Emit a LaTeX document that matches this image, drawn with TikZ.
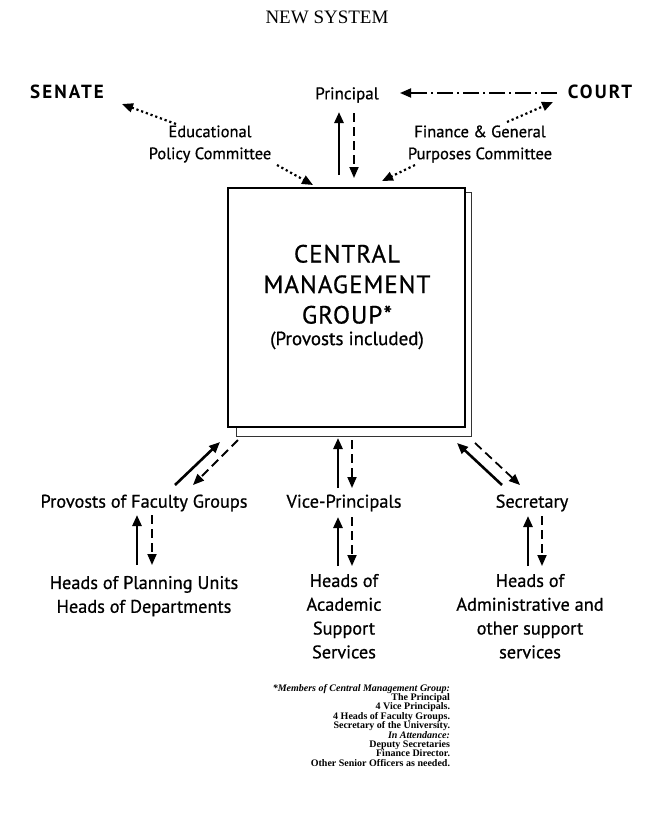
\documentclass[tikz,border=0pt]{standalone}
\usepackage{fontspec}
\setmainfont{Liberation Serif}
\newfontfamily\gill[FakeBold=0.7]{PT Sans}
\newfontfamily\gillbold{PT Sans Bold}
\usetikzlibrary{arrows.meta}
\begin{document}
\begin{tikzpicture}[x=1pt,y=-1pt,
  every node/.style={inner sep=0pt, outer sep=0pt},
  toplbl/.style={font=\gill\fontsize{16.5}{22}\selectfont, align=center},
  biglbl/.style={font=\gillbold\fontsize{19}{20}\selectfont\addfontfeatures{LetterSpace=11}},
  botlbl/.style={font=\gill\fontsize{18.3}{23.8}\selectfont, align=center},
  tipA/.style={-{Triangle[length=11pt,width=9pt]}},
  solidarr/.style={tipA, line width=2.6pt},
  dasharr/.style={tipA, line width=1.8pt, dash pattern=on 9pt off 5pt},
  dotarr/.style={tipA, line width=2.2pt, dash pattern=on 2.2pt off 2.8pt},
  dashdotarr/.style={tipA, line width=1.8pt, dash pattern=on 16pt off 4pt on 2pt off 4pt}
]
\useasboundingbox (0,0) rectangle (652,825);
\fill[white] (0,0) rectangle (652,825);

% title
\node (title) at (327,17) {\fontsize{19}{22}\selectfont NEW SYSTEM};

% top row
\node[biglbl] (senate) at (67,92) {SENATE};
\node[biglbl] (court) at (600,92) {COURT};
\node[font=\gill\fontsize{17}{20}\selectfont] (principal) at (347,95) {Principal};
\node[toplbl] (edu) at (210,144) {Educational\\Policy Committee};
\node[toplbl] (fin) at (480,144) {Finance \& General\\Purposes Committee};

% central box
\draw[fill=white, draw=black!80, line width=1pt] (236,192) rectangle (471,436);
\node[draw, fill=white, line width=1.4pt, minimum width=237pt, minimum height=239pt] (cmg) at (346.5,307.5) {};
\node[font=\gill\fontsize{25}{30.5}\selectfont\addfontfeatures{LetterSpace=4}, align=center] (cmgtxt) at (347,297)
  {CENTRAL\\MANAGEMENT\\GROUP*\\[-9pt]{\fontsize{19}{21}\selectfont\addfontfeatures{LetterSpace=0} (Provosts included)}};

% bottom row
\node[botlbl] (prov) at (144,503) {Provosts of Faculty Groups};
\node[botlbl] (vice) at (344,503) {Vice-Principals};
\node[botlbl] (sec) at (532,503) {Secretary};
\node[botlbl, anchor=north] (hpu) at (144,576) {Heads of Planning Units\\Heads of Departments};
\node[botlbl, anchor=north] (has) at (344,574) {Heads of\\Academic\\Support\\Services};
\node[botlbl, anchor=north] (hao) at (530,574) {Heads of\\Administrative and\\other support\\services};

% footnote
\node[anchor=north east, align=right, font=\bfseries\fontsize{10}{9.4}\selectfont] (foot) at (450,684)
 {\textit{*Members of Central Management Group:}\\
  The Principal\\
  4 Vice Principals.\\
  4 Heads of Faculty Groups.\\
  Secretary of the University.\\
  \textit{In Attendance:}\\
  Deputy Secretaries\\
  Finance Director.\\
  Other Senior Officers as needed.};

% connector end points
\coordinate (c1) at (557,93);   \coordinate (p1) at (400,93);
\coordinate (e1) at (176,124);  \coordinate (s1) at (122,104);
\coordinate (e2) at (277,165);  \coordinate (b1) at (313,185);
\coordinate (f1) at (507,122);  \coordinate (c2) at (553,102);
\coordinate (f2) at (415,165);  \coordinate (b2) at (382,181);
\coordinate (pu0) at (339,175); \coordinate (pu1) at (339,112);
\coordinate (pd0) at (354,113); \coordinate (pd1) at (354,178);

\coordinate (ps0) at (175,485); \coordinate (ps1) at (220,442);
\coordinate (pq0) at (238,440); \coordinate (pq1) at (193,485);
\coordinate (vs0) at (338,488); \coordinate (vs1) at (338,438);
\coordinate (vq0) at (352,440); \coordinate (vq1) at (352,488);
\coordinate (ss0) at (502,485); \coordinate (ss1) at (457,443);
\coordinate (sq0) at (475,443); \coordinate (sq1) at (520,485);

\coordinate (a1) at (137,565); \coordinate (a2) at (137,515);
\coordinate (a3) at (152,515); \coordinate (a4) at (152,565);
\coordinate (b3) at (338,566); \coordinate (b4) at (338,517);
\coordinate (b5) at (352,517); \coordinate (b6) at (352,566);
\coordinate (d1) at (528,566); \coordinate (d2) at (528,516);
\coordinate (d3) at (542,516); \coordinate (d4) at (542,566);

% top connectors
\draw[dashdotarr] (c1) -- (p1);
\draw[dotarr] (e1) -- (s1);
\draw[dotarr] (e2) -- (b1);
\draw[dotarr] (f1) -- (c2);
\draw[dotarr] (f2) -- (b2);
\draw[solidarr] (pu0) -- (pu1);
\draw[dasharr] (pd0) -- (pd1);

% box to second row
\draw[solidarr] (ps0) -- (ps1);
\draw[dasharr] (pq0) -- (pq1);
\draw[solidarr] (vs0) -- (vs1);
\draw[dasharr] (vq0) -- (vq1);
\draw[solidarr] (ss0) -- (ss1);
\draw[dasharr] (sq0) -- (sq1);

% second row to third row
\draw[solidarr] (a1) -- (a2);
\draw[dasharr] (a3) -- (a4);
\draw[solidarr] (b3) -- (b4);
\draw[dasharr] (b5) -- (b6);
\draw[solidarr] (d1) -- (d2);
\draw[dasharr] (d3) -- (d4);
\end{tikzpicture}
\end{document}
